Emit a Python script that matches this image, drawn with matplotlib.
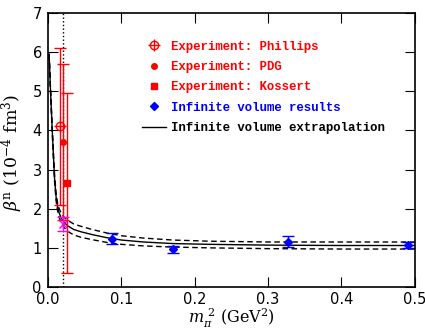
import matplotlib
matplotlib.use("Agg")
import matplotlib.pyplot as plt
from matplotlib.lines import Line2D

plt.rcParams["mathtext.fontset"] = "dejavuserif"

# experimental points
phillips_x, phillips_y, phillips_err = [0.016], [4.1], [2.0]
pdg_x, pdg_y, pdg_err = [0.0205], [3.7], [2.0]
kossert_x, kossert_y, kossert_err = [0.0255], [2.65], [2.3]

# lattice, infinite volume
lat_x = [0.0867, 0.171, 0.327, 0.491]
lat_y = [1.23, 0.97, 1.16, 1.07]
lat_err = [0.14, 0.09, 0.14, 0.08]

# physical point value
phys_x, phys_y, phys_err = [0.0205], [1.61], [0.18]
phys_m2 = 0.0205

# extrapolation curve and band
curve_x = [0.0015, 0.003, 0.0045, 0.006, 0.0075, 0.009, 0.011, 0.013, 0.015,
           0.018, 0.022, 0.027, 0.035, 0.045, 0.06, 0.08, 0.1, 0.13, 0.17,
           0.22, 0.3, 0.4, 0.5]
curve_mid = [5.95, 5.2, 4.55, 3.9, 3.3, 2.75, 2.3, 2.05, 1.9,
             1.76, 1.65, 1.56, 1.47, 1.41, 1.34, 1.26, 1.2, 1.15, 1.11,
             1.09, 1.07, 1.06, 1.06]
curve_hi = [5.95, 5.23, 4.6, 3.97, 3.38, 2.84, 2.4, 2.15, 2.01,
            1.88, 1.78, 1.7, 1.61, 1.55, 1.47, 1.38, 1.31, 1.25, 1.2,
            1.17, 1.15, 1.15, 1.15]
curve_lo = [5.95, 5.17, 4.5, 3.83, 3.22, 2.66, 2.2, 1.95, 1.79,
            1.64, 1.52, 1.42, 1.33, 1.27, 1.21, 1.14, 1.09, 1.05, 1.02,
            1.0, 0.98, 0.97, 0.97]

fig = plt.figure(figsize=(4.25, 3.32), dpi=100)
ax = fig.add_axes([0.113, 0.1355, 0.863, 0.8255])

ax.axvline(phys_m2, color="black", ls=":", lw=1)

ax.plot(curve_x, curve_mid, color="black", lw=1)
ax.plot(curve_x, curve_hi, color="black", lw=1, ls=(0, (4, 2.5)))
ax.plot(curve_x, curve_lo, color="black", lw=1, ls=(0, (4, 2.5)))

ax.errorbar(phillips_x, phillips_y, yerr=phillips_err, fmt="o", mfc="none",
            mec="red", ecolor="red", ms=6, capsize=4, elinewidth=1)
ax.plot(phillips_x, phillips_y, "+", color="red", ms=8)
ax.errorbar(pdg_x, pdg_y, yerr=pdg_err, fmt="o", color="red", ms=4,
            capsize=4, elinewidth=1)
ax.errorbar(kossert_x, kossert_y, yerr=kossert_err, fmt="s", color="red",
            ms=4, capsize=4, elinewidth=1)
ax.errorbar(phys_x, phys_y, yerr=phys_err, fmt="x", color="magenta", ms=6,
            capsize=4, elinewidth=1)
ax.errorbar(lat_x, lat_y, yerr=lat_err, fmt="D", color="blue", ms=4,
            capsize=4, elinewidth=1)

ax.set_xlim(0, 0.5)
ax.set_ylim(0, 7)
ax.set_xticks([0, 0.1, 0.2, 0.3, 0.4, 0.5])
ax.set_yticks(range(8))
ax.tick_params(direction="in", length=7, top=True, right=True, labelsize=10.5)
ax.tick_params(axis="y", pad=4.5)
ax.tick_params(axis="x", pad=3.5)
for s in ax.spines.values():
    s.set_linewidth(1.2)

ax.set_xlabel(r"$m_\pi^{\ 2}$ (GeV$^2$)", family="DejaVu Serif", fontsize=11.5,
              labelpad=0)
ax.set_ylabel(r"$\beta^{\rm n}$ (10$^{-4}$ fm$^3$)", family="DejaVu Serif",
              fontsize=12.5)
ax.yaxis.set_label_coords(-0.063, 0.49)

handles = [
    (Line2D([], [], ls="none", marker="o", mfc="none", mec="red", ms=6),
     Line2D([], [], ls="none", marker="+", color="red", ms=8)),
    Line2D([], [], ls="none", marker="o", color="red", ms=4),
    Line2D([], [], ls="none", marker="s", color="red", ms=4),
    Line2D([], [], ls="none", marker="D", color="blue", ms=4),
    Line2D([], [], color="black", lw=1),
]
labels = ["Experiment: Phillips", "Experiment: PDG", "Experiment: Kossert",
          "Infinite volume results", "Infinite volume extrapolation"]
leg = ax.legend(handles, labels, loc="upper left", bbox_to_anchor=(0.225, 0.94),
                frameon=False, handlelength=2.0, handletextpad=0.4,
                labelspacing=0.68, prop={"family": "Liberation Mono",
                                         "weight": "bold", "size": 8.9})
for t, c in zip(leg.get_texts(), ["red", "red", "red", "blue", "black"]):
    t.set_color(c)

fig.savefig("out.png", dpi=100)
